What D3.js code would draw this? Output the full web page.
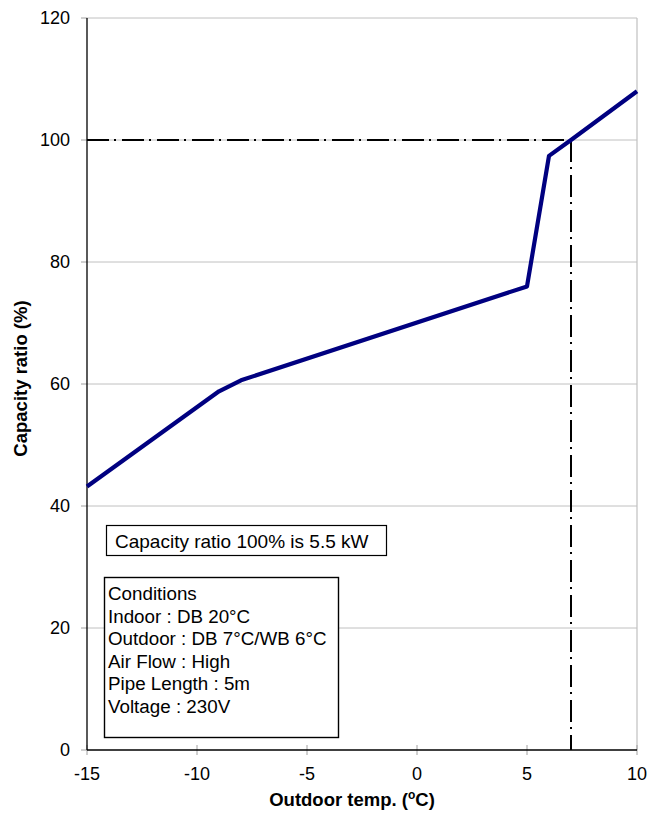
<!DOCTYPE html>
<html>
<head>
<meta charset="utf-8">
<script src="https://cdn.jsdelivr.net/npm/d3@7"></script>
<style>
  html, body { margin: 0; padding: 0; background: #fff; }
  svg { display: block; font-family: "Liberation Sans", Arial, sans-serif; }
</style>
</head>
<body>
<svg id="chart" width="663" height="815"></svg>
<script>
// Heating capacity ratio vs. outdoor temperature
const temps = [-15, -9, -8, 5, 6, 7, 10];
const capacity = [43.2, 58.8, 60.6, 76, 97.4, 100, 108];
const xTicks = [-15, -10, -5, 0, 5, 10];
const yTicks = [0, 20, 40, 60, 80, 100, 120];
const ratedTemp = 7;
const ratedRatio = 100;
const ratedNote = "Capacity ratio 100% is 5.5 kW";
const conditions = [
  "Conditions",
  "Indoor : DB 20\u00B0C",
  "Outdoor : DB 7\u00B0C/WB 6\u00B0C",
  "Air Flow : High",
  "Pipe Length : 5m",
  "Voltage : 230V"
];

const svg = d3.select("#chart");
const plotLeft = 87, plotRight = 637, plotTop = 18, plotBottom = 750;

const x = d3.scaleLinear().domain([-15, 10]).range([plotLeft, plotRight]);
const y = d3.scaleLinear().domain([0, 120]).range([plotBottom, plotTop]);

// gridlines
svg.append("g").selectAll("line").data(yTicks.filter(d => d > 0)).join("line")
  .attr("x1", plotLeft).attr("x2", plotRight)
  .attr("y1", d => y(d)).attr("y2", d => y(d))
  .attr("stroke", "#c0c0c0").attr("stroke-width", 1);

// right border
svg.append("line").attr("x1", plotRight).attr("x2", plotRight).attr("y1", plotTop).attr("y2", plotBottom)
  .attr("stroke", "#c0c0c0").attr("stroke-width", 1.2);

// y ticks and labels
const yAxis = svg.append("g");
yAxis.selectAll("line").data(yTicks).join("line")
  .attr("x1", plotLeft - 6).attr("x2", plotLeft)
  .attr("y1", d => y(d)).attr("y2", d => y(d))
  .attr("stroke", "#a0a0a0").attr("stroke-width", 1);
yAxis.selectAll("text").data(yTicks).join("text")
  .attr("x", 70).attr("y", d => y(d)).attr("dy", "0.36em")
  .attr("text-anchor", "end").attr("font-size", 18).attr("fill", "#000")
  .text(d => d);

// x ticks and labels
const xAxis = svg.append("g");
xAxis.selectAll("line").data(xTicks).join("line")
  .attr("x1", d => x(d)).attr("x2", d => x(d))
  .attr("y1", plotBottom - 5).attr("y2", plotBottom + 5)
  .attr("stroke", "#a0a0a0").attr("stroke-width", 1);
xAxis.selectAll("text").data(xTicks).join("text")
  .attr("x", d => x(d)).attr("y", 780)
  .attr("text-anchor", "middle").attr("font-size", 18).attr("fill", "#000")
  .text(d => d);

// axis lines
svg.append("line").attr("x1", plotLeft).attr("x2", plotLeft).attr("y1", plotTop).attr("y2", plotBottom)
  .attr("stroke", "#000").attr("stroke-width", 1.3);
svg.append("line").attr("x1", plotLeft).attr("x2", plotRight).attr("y1", plotBottom).attr("y2", plotBottom)
  .attr("stroke", "#000").attr("stroke-width", 1.3);

// rated point reference lines
const dashDot = "22,5,2,6";
svg.append("line")
  .attr("x1", x(-15)).attr("x2", x(ratedTemp))
  .attr("y1", y(ratedRatio)).attr("y2", y(ratedRatio))
  .attr("stroke", "#000").attr("stroke-width", 2).attr("stroke-dasharray", dashDot);
svg.append("line")
  .attr("x1", x(ratedTemp)).attr("x2", x(ratedTemp))
  .attr("y1", y(ratedRatio)).attr("y2", y(0))
  .attr("stroke", "#000").attr("stroke-width", 2).attr("stroke-dasharray", dashDot);

// capacity curve
const line = d3.line().x(d => x(d)).y((d, i) => y(capacity[i]));
svg.append("path")
  .attr("d", line(temps))
  .attr("fill", "none").attr("stroke", "#000080")
  .attr("stroke-width", 4.2).attr("stroke-linejoin", "round");

// note box
svg.append("rect").attr("x", 106.5).attr("y", 525.5).attr("width", 280).attr("height", 30)
  .attr("fill", "#fff").attr("stroke", "#000").attr("stroke-width", 1.2);
svg.append("text").attr("x", 115).attr("y", 548).attr("font-size", 19).attr("fill", "#000")
  .text(ratedNote);

// conditions box
svg.append("rect").attr("x", 104.5).attr("y", 577.5).attr("width", 234).attr("height", 160)
  .attr("fill", "#fff").attr("stroke", "#000").attr("stroke-width", 1.4);
svg.append("g").selectAll("text").data(conditions).join("text")
  .attr("x", 108).attr("y", (d, i) => 600 + i * 22.6)
  .attr("font-size", 18.8).attr("fill", "#000")
  .text(d => d);

// axis titles
const xt = svg.append("text").attr("x", 352).attr("y", 806)
  .attr("text-anchor", "middle").attr("font-size", 18.5).attr("font-weight", "bold");
xt.append("tspan").text("Outdoor temp. (");
xt.append("tspan").attr("font-size", 12).attr("dy", -7).text("o");
xt.append("tspan").attr("dy", 7).text("C)");

svg.append("text")
  .attr("transform", "translate(27,378.5) rotate(-90)")
  .attr("text-anchor", "middle").attr("font-size", 18.5).attr("font-weight", "bold")
  .text("Capacity ratio (%)");
</script>
</body>
</html>
